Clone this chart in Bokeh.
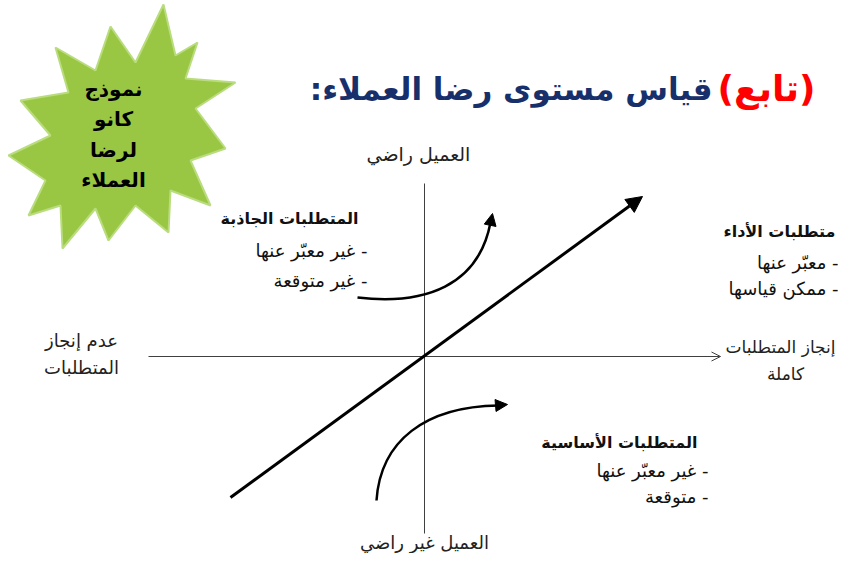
from bokeh.plotting import figure
from bokeh.models import Range1d, Arrow, NormalHead, OpenHead
from bokeh.core.properties import value
from bokeh.embed import file_html
from bokeh.resources import INLINE

RLM = "\u200f"
FONT = value("DejaVu Sans")

# --- content ---
title_red = "(تابع)"
title_blue = "قياس مستوى رضا العملاء:"
star_lines = ["نموذج", "كانو", "لرضا", "العملاء"]
axis_top = "العميل راضي"
axis_bottom = "العميل غير راضي"
axis_left = ["عدم إنجاز", "المتطلبات"]
axis_right = ["إنجاز المتطلبات", "كاملة"]
heads = ["المتطلبات الجاذبة", "متطلبات الأداء", "المتطلبات الأساسية"]
items = [["- غير معبّر عنها", "- غير متوقعة"],
         ["- معبّر عنها", "- ممكن قياسها"],
         ["- غير معبّر عنها", "- متوقعة"]]

# --- layout positions (image pixel space) ---
star_x = [163, 175, 197, 185, 235, 195, 225, 190, 210, 170, 168, 135, 108, 95, 62, 60, 28, 45, 8, 50, 20, 68, 55, 95, 110, 135]
star_y = [4, 55, 42, 78, 82, 108, 148, 160, 205, 190, 232, 205, 240, 208, 248, 205, 215, 180, 155, 135, 100, 92, 47, 70, 26, 62]
star_text_y = [88, 118, 149, 179]
head_pos = [(358, 218), (835, 231), (697, 442)]
item_pos = [(367, [250, 280]), (838, [262, 288]), (708, [470, 496])]

p = figure(width=838, height=553, output_backend="svg", toolbar_location=None,
           x_range=Range1d(0, 838), y_range=Range1d(553, 0),
           x_axis_type=None, y_axis_type=None, min_border=0,
           outline_line_color=None, background_fill_color="white")
p.grid.visible = False

# starburst
p.patch(star_x, star_y, fill_color="#9ac743", line_color="#b9dc7e", line_width=2)
p.text(x=[113] * 4, y=star_text_y, text=star_lines, text_font=FONT,
       text_font_size="20px", text_font_style="bold", text_align="center",
       text_baseline="middle", text_color="black")

# title
p.text(x=[815], y=[88], text=[title_red], text_font=FONT, text_font_size="36px",
       text_font_style="bold", text_align="right", text_baseline="middle", text_color="#ff0000")
p.text(x=[712], y=[88], text=[RLM + title_blue + RLM], text_font=FONT, text_font_size="31px",
       text_font_style="bold", text_align="right", text_baseline="middle", text_color="#17306b")

# axes
p.add_layout(Arrow(end=OpenHead(size=9, line_width=1, line_color="#404040"),
                   x_start=148, y_start=356, x_end=720, y_end=356,
                   line_width=1, line_color="#404040"))
p.segment(x0=[424], y0=[183], x1=[424], y1=[533], line_width=1, line_color="#404040")

# performance diagonal
p.add_layout(Arrow(end=NormalHead(size=16, fill_color="black", line_color="black"),
                   x_start=230, y_start=497, x_end=642, y_end=196,
                   line_width=3, line_color="black"))

# attractive curve
p.bezier(x0=[357], y0=[297], cx0=[425], cy0=[305], cx1=[478], cy1=[285], x1=[490], y1=[222],
         line_width=2.5, line_color="black")
p.add_layout(Arrow(end=NormalHead(size=12, fill_color="black", line_color="black"),
                   x_start=489, y_start=228, x_end=492, y_end=213, line_width=0, line_alpha=0))

# basic curve
p.bezier(x0=[376], y0=[500], cx0=[380], cy0=[440], cx1=[425], cy1=[406], x1=[498], y1=[405],
         line_width=2.5, line_color="black")
p.add_layout(Arrow(end=NormalHead(size=12, fill_color="black", line_color="black"),
                   x_start=495, y_start=405, x_end=507, y_end=404, line_width=0, line_alpha=0))

# axis labels
p.text(x=[418], y=[153], text=[axis_top], text_font=FONT, text_font_size="19px",
       text_align="center", text_baseline="middle", text_color="#222222")
p.text(x=[424], y=[542], text=[axis_bottom], text_font=FONT, text_font_size="18px",
       text_align="center", text_baseline="middle", text_color="#222222")
p.text(x=[81, 81], y=[340, 367], text=axis_left, text_font=FONT, text_font_size="18px",
       text_align="center", text_baseline="middle", text_color="#222222")
p.text(x=[780, 785], y=[346, 373], text=axis_right, text_font=FONT, text_font_size="17px",
       text_align="center", text_baseline="middle", text_color="#222222")

# category labels
for (hx, hy), h in zip(head_pos, heads):
    p.text(x=[hx], y=[hy], text=[h], text_font=FONT, text_font_size="16px",
           text_font_style="bold", text_align="right", text_baseline="middle", text_color="#111111")
for (ix, iys), its in zip(item_pos, items):
    p.text(x=[ix] * len(its), y=iys, text=[RLM + t for t in its], text_font=FONT,
           text_font_size="18px", text_align="right", text_baseline="middle", text_color="#111111")

open("out.html", "w").write(file_html(p, INLINE))
